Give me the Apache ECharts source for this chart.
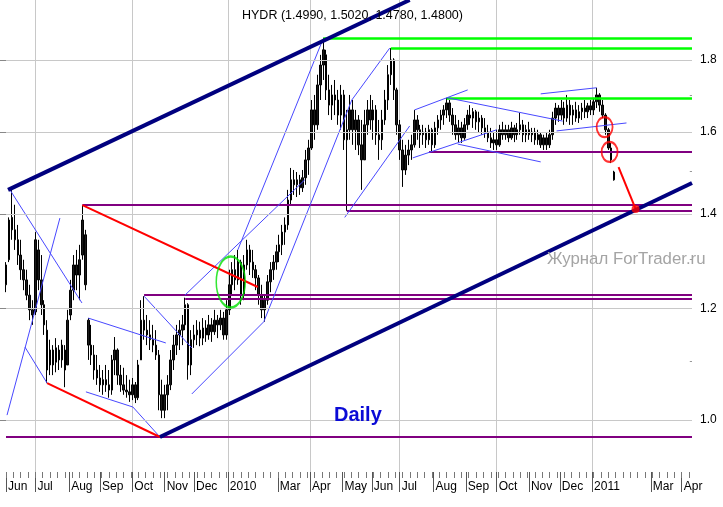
<!DOCTYPE html>
<html><head><meta charset="utf-8">
<script src="https://cdn.jsdelivr.net/npm/echarts@6/dist/echarts.min.js"></script>
<style>html,body{margin:0;padding:0;background:#fff}#c{width:723px;height:507px}</style>
</head><body><div id="c"></div>
<script>
// ---- price data: one bar per 2 trading days (x = trading-day number) ----
const barStep = 2;
const opens = [
1.247,1.299,1.392,1.364,1.342,1.309,1.278,1.257,1.226,1.197,
1.193,1.320,1.257,1.207,1.158,1.094,1.121,1.099,1.121,1.103,
1.121,1.094,1.187,1.236,1.288,1.267,1.309,1.353,1.177,1.130,
1.112,1.085,1.071,1.059,1.068,1.059,1.050,1.103,1.121,1.076,
1.059,1.050,1.047,1.042,1.059,1.037,1.103,1.177,1.158,1.149,
1.140,1.130,1.112,1.042,1.016,1.042,1.059,1.103,1.130,1.149,
1.158,1.168,1.207,1.094,1.140,1.149,1.158,1.143,1.162,1.149,
1.168,1.155,1.177,1.168,1.181,1.149,1.197,1.247,1.278,1.257,
1.294,1.226,1.288,1.320,1.294,1.278,1.261,1.226,1.197,1.216,
1.253,1.278,1.294,1.316,1.331,1.359,1.375,1.432,1.480,1.468,
1.480,1.461,1.485,1.529,1.559,1.659,1.619,1.728,1.785,1.815,
1.714,1.672,1.700,1.686,1.645,1.700,1.580,1.606,1.659,1.606,
1.632,1.567,1.529,1.619,1.659,1.632,1.659,1.593,1.580,1.632,
1.686,1.757,1.800,1.714,1.619,1.554,1.504,1.541,1.554,1.567,
1.632,1.606,1.593,1.600,1.580,1.606,1.567,1.611,1.632,1.645,
1.659,1.678,1.645,1.619,1.593,1.611,1.585,1.619,1.645,1.637,
1.654,1.627,1.637,1.611,1.600,1.585,1.572,1.580,1.567,1.606,
1.593,1.606,1.585,1.611,1.593,1.606,1.619,1.593,1.606,1.593,
1.600,1.580,1.593,1.567,1.585,1.567,1.593,1.637,1.664,1.645,
1.664,1.637,1.672,1.645,1.659,1.637,1.654,1.664,1.654,1.670,
1.659,1.681,1.700,1.672,1.645,1.606,1.559,1.499];
const highs = [
1.294,1.392,1.456,1.421,1.375,1.342,1.299,1.278,1.247,1.216,
1.359,1.342,1.309,1.216,1.177,1.140,1.130,1.143,1.130,1.140,
1.130,1.197,1.257,1.309,1.320,1.331,1.420,1.364,1.181,1.168,
1.130,1.112,1.094,1.085,1.094,1.085,1.112,1.145,1.124,1.094,
1.089,1.076,1.068,1.071,1.064,1.103,1.216,1.224,1.187,1.177,
1.168,1.158,1.121,1.068,1.059,1.076,1.121,1.149,1.168,1.177,
1.187,1.221,1.210,1.158,1.168,1.177,1.174,1.181,1.177,1.187,
1.181,1.197,1.187,1.197,1.193,1.216,1.278,1.294,1.309,1.320,
1.299,1.309,1.342,1.331,1.320,1.288,1.267,1.247,1.226,1.267,
1.294,1.309,1.331,1.353,1.375,1.392,1.456,1.509,1.504,1.499,
1.492,1.504,1.554,1.580,1.686,1.700,1.757,1.815,1.866,1.830,
1.757,1.728,1.742,1.714,1.728,1.714,1.659,1.700,1.686,1.659,
1.645,1.632,1.659,1.686,1.700,1.686,1.672,1.632,1.659,1.714,
1.785,1.835,1.805,1.720,1.632,1.580,1.567,1.580,1.593,1.659,
1.645,1.619,1.619,1.611,1.619,1.611,1.627,1.645,1.659,1.672,
1.692,1.686,1.664,1.645,1.632,1.627,1.637,1.659,1.672,1.664,
1.659,1.654,1.645,1.637,1.619,1.611,1.600,1.606,1.619,1.627,
1.619,1.619,1.627,1.619,1.624,1.651,1.632,1.619,1.627,1.611,
1.611,1.606,1.600,1.593,1.598,1.606,1.654,1.678,1.672,1.686,
1.681,1.700,1.686,1.672,1.681,1.672,1.678,1.686,1.678,1.686,
1.692,1.720,1.705,1.686,1.650,1.611,1.572,1.502];
const lows = [
1.232,1.294,1.342,1.320,1.288,1.257,1.236,1.216,1.177,1.168,
1.187,1.236,1.187,1.149,1.062,1.076,1.076,1.081,1.085,1.089,
1.055,1.094,1.177,1.216,1.236,1.216,1.299,1.236,1.103,1.094,
1.068,1.059,1.047,1.042,1.047,1.037,1.042,1.076,1.059,1.047,
1.042,1.037,1.030,1.033,1.028,1.033,1.103,1.140,1.130,1.121,
1.117,1.103,1.016,1.003,1.003,1.016,1.050,1.085,1.112,1.121,
1.130,1.158,1.068,1.076,1.125,1.130,1.128,1.130,1.136,1.140,
1.136,1.149,1.143,1.158,1.140,1.140,1.187,1.226,1.236,1.247,
1.207,1.216,1.278,1.267,1.261,1.236,1.207,1.181,1.174,1.207,
1.232,1.257,1.278,1.294,1.309,1.331,1.364,1.421,1.444,1.439,
1.444,1.451,1.468,1.492,1.554,1.580,1.606,1.686,1.742,1.686,
1.645,1.632,1.645,1.619,1.606,1.554,1.407,1.580,1.567,1.554,
1.541,1.456,1.529,1.593,1.606,1.580,1.567,1.529,1.554,1.619,
1.659,1.728,1.686,1.593,1.529,1.463,1.492,1.516,1.529,1.560,
1.580,1.559,1.567,1.559,1.567,1.549,1.559,1.593,1.606,1.619,
1.637,1.627,1.593,1.580,1.574,1.572,1.580,1.606,1.619,1.611,
1.606,1.600,1.593,1.585,1.574,1.559,1.554,1.554,1.562,1.580,
1.580,1.574,1.580,1.574,1.580,1.593,1.574,1.574,1.580,1.574,
1.567,1.567,1.559,1.554,1.554,1.559,1.580,1.619,1.627,1.632,
1.619,1.627,1.619,1.619,1.627,1.624,1.632,1.637,1.637,1.645,
1.645,1.664,1.654,1.637,1.593,1.554,1.521,1.478];
const closes = [
1.288,1.386,1.364,1.342,1.309,1.278,1.257,1.226,1.197,1.187,
1.342,1.257,1.207,1.168,1.085,1.121,1.094,1.125,1.103,1.130,
1.085,1.177,1.236,1.288,1.267,1.299,1.386,1.247,1.130,1.112,
1.085,1.071,1.059,1.068,1.059,1.050,1.103,1.121,1.076,1.059,
1.050,1.047,1.042,1.059,1.037,1.094,1.177,1.158,1.149,1.140,
1.130,1.112,1.042,1.016,1.042,1.059,1.103,1.130,1.149,1.158,
1.168,1.207,1.094,1.140,1.149,1.158,1.143,1.162,1.149,1.168,
1.155,1.177,1.168,1.181,1.149,1.197,1.247,1.278,1.257,1.294,
1.226,1.288,1.320,1.294,1.278,1.261,1.226,1.197,1.216,1.253,
1.278,1.294,1.316,1.331,1.359,1.375,1.432,1.480,1.468,1.480,
1.461,1.485,1.529,1.559,1.659,1.619,1.728,1.785,1.830,1.714,
1.672,1.700,1.686,1.645,1.700,1.580,1.606,1.659,1.606,1.632,
1.567,1.529,1.619,1.659,1.632,1.659,1.593,1.580,1.632,1.686,
1.757,1.800,1.714,1.619,1.554,1.504,1.541,1.554,1.567,1.632,
1.606,1.593,1.600,1.580,1.606,1.567,1.611,1.632,1.645,1.659,
1.678,1.645,1.619,1.593,1.611,1.585,1.619,1.645,1.637,1.654,
1.627,1.637,1.611,1.600,1.585,1.572,1.580,1.567,1.606,1.593,
1.606,1.585,1.611,1.593,1.606,1.619,1.593,1.606,1.593,1.600,
1.580,1.593,1.567,1.585,1.567,1.593,1.637,1.664,1.645,1.664,
1.637,1.672,1.645,1.659,1.637,1.654,1.664,1.654,1.670,1.659,
1.681,1.700,1.672,1.645,1.606,1.559,1.529,1.480];

// ---- axes: trading-day numbers of month starts and their labels ----
const monthTicks  = [0, 20, 43, 64, 86, 108, 128, 151, 185, 207, 229, 249, 268, 291, 313, 334, 356, 377, 399, 439, 460];
const monthLabels = ['Jun','Jul','Aug','Sep','Oct','Nov','Dec','2010','Mar','Apr','May','Jun','Jul','Aug','Sep','Oct','Nov','Dec','2011','Mar','Apr'];
const quarterStarts = [20, 86, 151, 207, 268, 334, 399];
const priceTicks = [1.0, 1.2, 1.4, 1.6, 1.8];
const priceMinorTicks = [1.1, 1.3, 1.5, 1.7];
const X_MIN = 0, X_MAX = 467, Y_MIN = 0.9186, Y_MAX = 1.985;

// ---- drawn annotations (trading day, price) ----
const navyLines = [[[1.4, 1.456], [274.8, 1.985]], [[104.8, 0.9726], [467, 1.4725]]];
const purpleLevels = [[0, 0.9726], [52, 1.420], [232, 1.407], [94, 1.226], [122, 1.2185], [288, 1.549]];
const greenLevels = [[216, 1.866], [262, 1.835], [300, 1.692]];
const redLines = [[[28, 1.062], [104.8, 0.9726]], [[52, 1.420], [171.4, 1.2425]], [[417, 1.511], [428.6, 1.4113]]];
const redDot = [[428.6, 1.4113]];
const redRings = [[407.5, 1.613], [410.9, 1.549]];
const greenRing = [[153, 1.2527]];
const blueLines = [
  [[2.7, 1.456], [51.7, 1.2105]],
  [[0.7, 1.008], [36.7, 1.3905]],
  [[12.9, 1.1265], [28, 1.062]],
  [[56, 1.181], [108.8, 1.134]],
  [[54.4, 1.047], [86.4, 1.0214]],
  [[86.4, 1.0214], [104.8, 0.9726]],
  [[94, 1.224], [126.5, 1.1248]],
  [[126.5, 1.0434], [175.5, 1.174]],
  [[175.5, 1.174], [235.4, 1.686]],
  [[235.4, 1.686], [261.2, 1.835]],
  [[121.8, 1.226], [203.4, 1.480]],
  [[157.8, 1.320], [215.6, 1.860]],
  [[230.6, 1.392], [274.8, 1.616]],
  [[276.9, 1.534], [334, 1.606]],
  [[278.2, 1.659], [314.3, 1.714]],
  [[300.7, 1.692], [378.9, 1.629]],
  [[307.5, 1.569], [364, 1.524]],
  [[364, 1.703], [402, 1.720]],
  [[374.8, 1.603], [422.4, 1.624]]
];

const weekTicks = [];
for (let d = X_MIN; d <= X_MAX; d += 5) weekTicks.push(d);

const bars = opens.map((o, i) => [i * barStep, o, closes[i], lows[i], highs[i]]);
const segs = arr => arr.map(s => ({ coords: s }));
const levels = arr => arr.map(([x0, p]) => ({ coords: [[x0, p], [X_MAX, p]] }));
const vGrid = quarterStarts.map(d => ({ coords: [[d, Y_MIN], [d, Y_MAX]] }));
const minorMarks = priceMinorTicks.map(p => ({ coords: [[X_MAX - 1.5, p], [X_MAX, p]] }));

const FONT = '"Liberation Sans", Arial, sans-serif';
function linesSeries(name, data, color, width, z) {
  return { name, type: 'lines', coordinateSystem: 'cartesian2d', polyline: false, silent: true, z,
    data, symbol: ['none', 'none'], lineStyle: { color, width, opacity: 1, curveness: 0 } };
}

const chart = echarts.init(document.getElementById('c'));
chart.setOption({
  animation: false,
  backgroundColor: '#fff',
  title: { text: 'HYDR (1.4990, 1.5020, 1.4780, 1.4800)', left: 237, top: 4,
    textStyle: { fontFamily: FONT, fontSize: 12.5, fontWeight: 'normal', color: '#000' } },
  grid: { left: 6, right: 31, top: 0, bottom: 35, containLabel: false },
  xAxis: [{
    type: 'value', min: X_MIN, max: X_MAX, position: 'bottom',
    axisLine: { show: false }, splitLine: { show: false },
    axisTick: { show: true, customValues: monthTicks, length: 20, lineStyle: { color: '#555' } },
    axisLabel: { show: true, customValues: monthTicks, formatter: v => monthLabels[monthTicks.indexOf(v)] || '',
      align: 'left', padding: [0, 0, 0, 2], margin: 9, fontSize: 12, color: '#000', fontFamily: FONT }
  }, {
    type: 'value', min: X_MIN, max: X_MAX, position: 'bottom',
    axisLine: { show: false }, splitLine: { show: false }, axisLabel: { show: false },
    axisTick: { show: true, customValues: weekTicks, length: 6, lineStyle: { color: '#777' } }
  }],
  yAxis: {
    type: 'log', logBase: 10, min: Y_MIN, max: Y_MAX, position: 'right',
    axisLine: { show: false }, splitLine: { show: false },
    axisTick: { show: true, inside: true, length: 12, customValues: priceTicks, lineStyle: { color: '#888' } },
    axisLabel: { show: true, customValues: priceTicks, formatter: v => (+v).toFixed(1), margin: 8,
      fontSize: 12, color: '#000', fontFamily: FONT }
  },
  series: [
    { name: 'hgrid', type: 'line', z: 1, silent: true, data: [[X_MIN, 1.0]], showSymbol: false,
      lineStyle: { opacity: 0 },
      markLine: { silent: true, symbol: ['none', 'none'], label: { show: false },
        lineStyle: { color: '#c8c8c8', width: 1, type: 'solid' },
        data: priceTicks.map(p => ({ yAxis: p })) } },
    linesSeries('vgrid', vGrid, '#c8c8c8', 1, 1),
    linesSeries('minorTicks', minorMarks, '#999', 1, 1),
    { name: 'HYDR', type: 'candlestick', z: 2, data: bars, encode: { x: 0, y: [1, 2, 3, 4] },
      barWidth: 2, silent: true,
      itemStyle: { color: '#1a1a1a', color0: '#1a1a1a', borderColor: '#000', borderColor0: '#000', borderWidth: 1 } },
    linesSeries('purple', levels(purpleLevels), '#800080', 2, 3),
    linesSeries('green', levels(greenLevels), '#00ff00', 2.5, 3),
    linesSeries('blue', segs(blueLines), '#4848ff', 1, 4),
    linesSeries('red', segs(redLines), '#ff0000', 2, 5),
    linesSeries('navy', segs(navyLines), '#00007f', 4, 6),
    { name: 'redDot', type: 'scatter', z: 7, silent: true, data: redDot, symbol: 'circle', symbolSize: 8,
      itemStyle: { color: '#ff0000' } },
    { name: 'redRings', type: 'scatter', z: 7, silent: true, data: redRings, symbol: 'circle', symbolSize: [16, 20],
      itemStyle: { color: 'rgba(0,0,0,0)', borderColor: '#ff0000', borderWidth: 2 } },
    { name: 'greenRing', type: 'scatter', z: 7, silent: true, data: greenRing, symbol: 'circle', symbolSize: [29, 51],
      itemStyle: { color: 'rgba(0,0,0,0)', borderColor: '#00e000', borderWidth: 2 } }
  ],
  graphic: [
    { type: 'text', left: 334, top: 405, z: 10, style: { text: 'Daily', font: 'bold 20px ' + FONT, fill: '#0b0bd6' } },
    { type: 'text', left: 547, top: 251, z: 10, style: { text: 'Журнал ForTrader.ru', font: '16.8px ' + FONT, fill: '#a4a4a4' } }
  ]
});
</script>
</body></html>
